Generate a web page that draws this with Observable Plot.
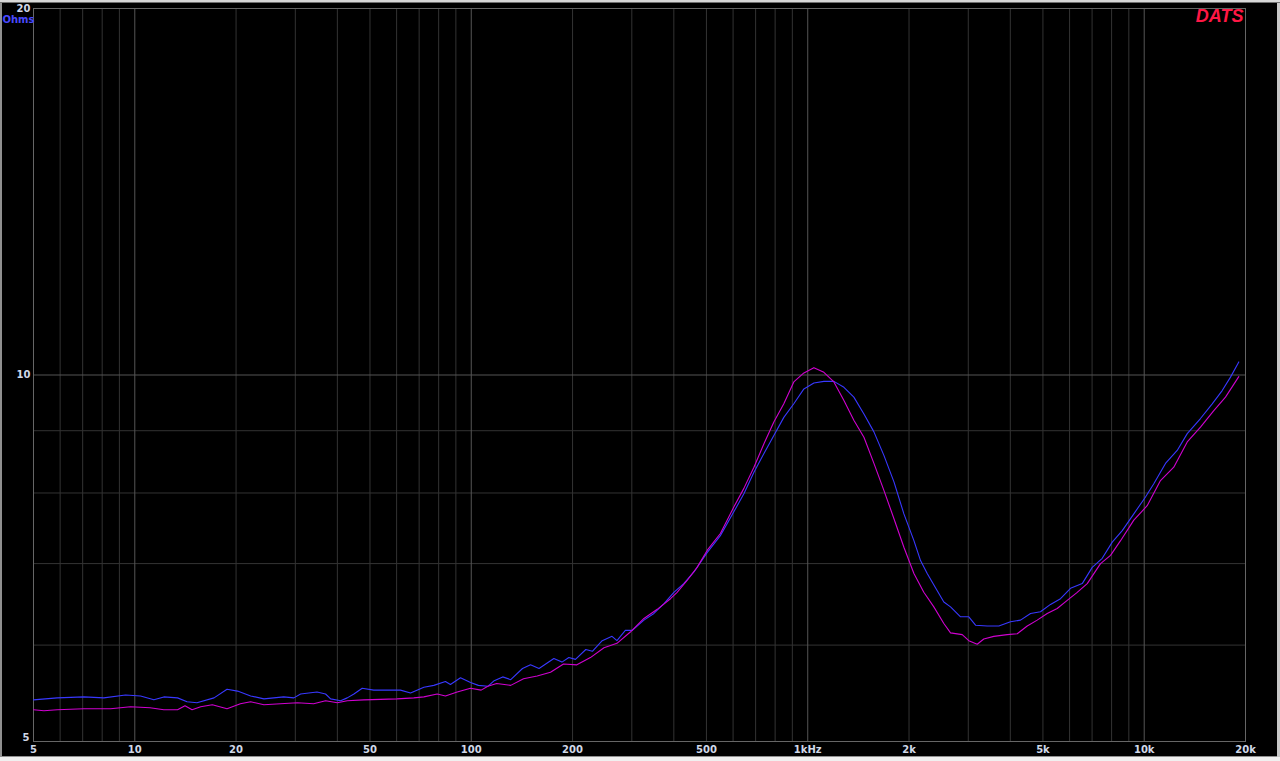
<!DOCTYPE html>
<html>
<head>
<meta charset="utf-8">
<script src="https://cdn.jsdelivr.net/npm/d3@7"></script>
<script src="https://cdn.jsdelivr.net/npm/@observablehq/plot@0.6"></script>
<style>
  html, body { margin: 0; padding: 0; background: #f0f0f0; overflow: hidden; }
  #chart svg { display: block; background: #000; overflow: visible; box-shadow: inset 0 2px 0 #d8d8d8, inset 0 3px 0 #707070, inset 2px 0 0 #909090, inset -3px 0 0 #c8c8c8, inset 0 -1px 0 #909090; }
</style>
</head>
<body>
<div id="chart"></div>
<script>
// Frequencies (Hz) and impedance (Ohms)
const freqBlue = [5, 5.88, 7.06, 8.09, 9.39, 10.4, 11.4, 12.2, 13.4, 14.3, 15.3, 17.2, 18.8, 20.2, 22.1, 24.2, 27.7, 29.7, 31.1, 34.8, 36.9, 38.2, 40.9, 42.8,
  44.8, 47.4, 51.3, 56.3, 61.6, 66.0, 72.3, 77.4, 83.8, 86.7, 92.9, 99.5, 105, 112, 117, 124, 131, 142, 150, 159, 176, 186, 195, 204, 219, 229, 245, 262, 271, 287, 301, 326, 349, 374, 400,
  428, 459, 503, 550, 603, 646, 692, 741, 793, 849, 909, 974, 1043, 1117, 1196, 1281, 1371, 1469, 1573, 1684, 1804, 1931, 2068, 2164, 2265, 2426, 2538,
  2657, 2845, 3011, 3153, 3415, 3698, 4006, 4289, 4594, 4917, 5266, 5639, 6039, 6543, 7007, 7503, 8035, 8604, 9313, 10087, 10677, 11567, 12531, 13424, 14697, 15925, 17052, 18048, 19103];
const ohmBlue = [5.41, 5.43, 5.44, 5.43, 5.46, 5.45, 5.41, 5.44, 5.43, 5.39, 5.38, 5.43, 5.52, 5.50, 5.45, 5.42, 5.44, 5.43, 5.47, 5.49, 5.47, 5.42, 5.40, 5.43,
  5.47, 5.53, 5.51, 5.51, 5.51, 5.48, 5.54, 5.56, 5.60, 5.57, 5.64, 5.59, 5.56, 5.55, 5.61, 5.65, 5.62, 5.74, 5.78, 5.74, 5.85, 5.81, 5.86, 5.84, 5.95, 5.93, 6.05, 6.10, 6.05, 6.17, 6.17, 6.29, 6.37, 6.49, 6.63,
  6.74, 6.89, 7.15, 7.38, 7.72, 7.99, 8.32, 8.62, 8.92, 9.23, 9.47, 9.74, 9.85, 9.88, 9.88, 9.77, 9.59, 9.29, 8.98, 8.59, 8.17, 7.69, 7.31, 7.04, 6.87, 6.65, 6.51,
  6.45, 6.33, 6.33, 6.23, 6.22, 6.22, 6.27, 6.29, 6.37, 6.39, 6.48, 6.55, 6.68, 6.74, 6.95, 7.07, 7.29, 7.45, 7.69, 7.94, 8.14, 8.46, 8.67, 8.95, 9.21, 9.47, 9.71, 9.96, 10.25];

const freqMag = [5, 5.37, 5.88, 7.06, 8.47, 9.71, 11.1, 12.2, 13.4, 14.1, 14.8, 15.7, 17.0, 18.8, 20.6, 22.1, 24.2, 27.1, 30.4, 34.0, 36.9, 40.0, 42.8,
  47.9, 60.2, 67.5, 72.3, 79.2, 83.8, 90.8, 99.5, 107, 112, 119, 131, 143, 157, 172, 188, 206, 226, 248, 271, 297, 326, 357, 391,
  409, 438, 469, 503, 550, 603, 646, 692, 741, 793, 849, 909, 974, 1043, 1117, 1196, 1281, 1371, 1469, 1573, 1684, 1804, 1931, 2068, 2213, 2370, 2538, 2657,
  2878, 3011, 3189, 3336, 3573, 3916, 4194, 4491, 4808, 5149, 5514, 5904, 6323, 6771, 7416, 7942, 8505, 9313, 10205, 11178, 12243, 13424, 14697, 16100, 17440, 19103];
const ohmMag = [5.31, 5.30, 5.31, 5.32, 5.32, 5.34, 5.33, 5.31, 5.31, 5.35, 5.31, 5.34, 5.36, 5.32, 5.37, 5.39, 5.36, 5.37, 5.38, 5.37, 5.40, 5.38, 5.40,
  5.41, 5.42, 5.43, 5.44, 5.47, 5.45, 5.49, 5.53, 5.51, 5.55, 5.58, 5.56, 5.63, 5.66, 5.70, 5.79, 5.78, 5.86, 5.97, 6.02, 6.15, 6.31, 6.42, 6.55,
  6.63, 6.78, 6.95, 7.18, 7.41, 7.79, 8.07, 8.40, 8.78, 9.15, 9.47, 9.87, 10.04, 10.14, 10.05, 9.87, 9.53, 9.18, 8.89, 8.46, 8.04, 7.62, 7.22, 6.87, 6.63, 6.45, 6.25, 6.14,
  6.12, 6.05, 6.01, 6.07, 6.10, 6.12, 6.13, 6.22, 6.29, 6.37, 6.43, 6.53, 6.63, 6.74, 7.00, 7.11, 7.31, 7.60, 7.81, 8.19, 8.40, 8.81, 9.06, 9.35, 9.59, 9.97];

// Axis ticks and labels
const xTicks = [5, 10, 20, 50, 100, 200, 500, 1000, 2000, 5000, 10000, 20000];
const xLabels = ["5", "10", "20", "50", "100", "200", "500", "1kHz", "2k", "5k", "10k", "20k"];
const yTicks = [5, 10, 20];
const yLabels = ["5", "10", "20"];
const xGridMajor = [10, 100, 1000, 10000];
const xGridMinor = [6, 7, 8, 9, 20, 30, 40, 50, 60, 70, 80, 90, 200, 300, 400, 500, 600, 700, 800, 900, 2000, 3000, 4000, 5000, 6000, 7000, 8000, 9000];
const yGridMajor = [10];
const yGridMinor = [6, 7, 8, 9];

const blue = freqBlue.map((f, i) => ({f, z: ohmBlue[i]}));
const mag = freqMag.map((f, i) => ({f, z: ohmMag[i]}));
const xLab = xTicks.map((f, i) => ({f, t: xLabels[i]}));
const yLab = yTicks.map((z, i) => ({z, t: yLabels[i]}));

const font = "DejaVu Sans, sans-serif";
const labColor = "#d0d8e8";
const chart = Plot.plot({
  width: 1280,
  height: 757,
  marginLeft: 33,
  marginRight: 35,
  marginTop: 8,
  marginBottom: 16,
  style: {background: "#000", fontFamily: font, fontSize: "10px", fontWeight: "bold", color: labColor},
  x: {type: "log", domain: [5, 20000], axis: null},
  y: {type: "log", domain: [5, 20], axis: null},
  marks: [
    Plot.ruleX(xGridMinor, {stroke: "#333", strokeWidth: 1}),
    Plot.ruleY(yGridMinor, {stroke: "#333", strokeWidth: 1}),
    Plot.ruleX(xGridMajor, {stroke: "#555", strokeWidth: 1}),
    Plot.ruleY(yGridMajor, {stroke: "#555", strokeWidth: 1}),
    Plot.frame({stroke: "#666", strokeWidth: 1}),
    Plot.text(xLab, {x: "f", frameAnchor: "bottom", text: "t", dy: 11, fill: labColor, fontWeight: "bold", fontSize: 10}),
    Plot.text(yLab.filter(d => d.z !== 5), {y: "z", frameAnchor: "left", text: "t", dx: -3, textAnchor: "end", fill: labColor, fontWeight: "bold", fontSize: 10}),
    Plot.text(yLab.filter(d => d.z === 5), {y: "z", frameAnchor: "left", text: "t", dx: -4, dy: -4, textAnchor: "end", fill: labColor, fontWeight: "bold", fontSize: 10}),
    Plot.text(["Ohms"], {frameAnchor: "top-left", dx: -31, dy: 7, fill: "#4a4aff", fontWeight: "bold", fontSize: 10, textAnchor: "start"}),
    Plot.text(["DATS"], {frameAnchor: "top-right", dx: -2, dy: 1, fill: "#ff1744", fontWeight: "bold", fontStyle: "italic", fontSize: 18, fontFamily: "Liberation Sans, Arial, sans-serif", textAnchor: "end"}),
    Plot.line(blue, {x: "f", y: "z", stroke: "#3838ff", strokeWidth: 1.1}),
    Plot.line(mag, {x: "f", y: "z", stroke: "#d000d0", strokeWidth: 1.1})
  ]
});
document.getElementById("chart").appendChild(chart);
</script>
</body>
</html>
